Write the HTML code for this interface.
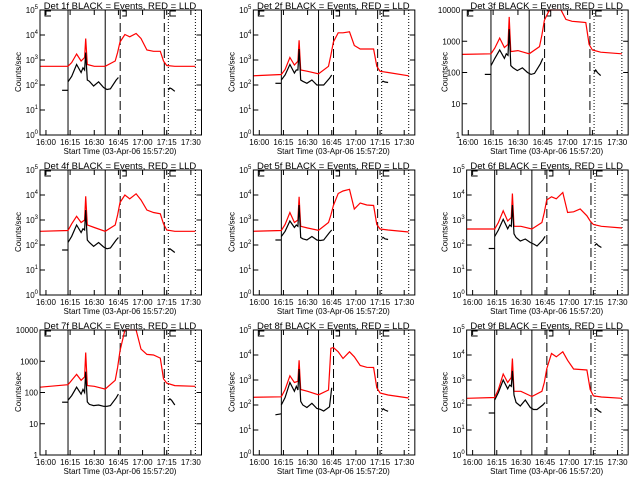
<!DOCTYPE html>
<html><head><meta charset="utf-8"><style>
html,body{margin:0;padding:0;background:#fff;}
svg{display:block;}
text{font-family:"Liberation Sans",sans-serif;fill:#000;}
</style></head><body>
<svg id="chart" width="640" height="480" viewBox="0 0 640 480" xmlns="http://www.w3.org/2000/svg"></svg>
<script>
// Shared time knots (minutes after 16:00)
const redTimes = [-3.7,13.7,16,19,21.8,24,24.7,25.7,30,36.8,43,44.5,46,49,52,56,59,62.7,66.8,71,73,75,80,92.8];
const blackTimes = [13.7,16,19,21.8,23,24,24.7,25.7,27,29.6,32.7,35.8,37.9,40,43.6,45];
const blackPreTimes = [10,13.7];
const blackPostTimes = [76,77,78,80];
const xTickLabels = ["16:00","16:15","16:30","16:45","17:00","17:15","17:30"];
const xTickTimes = [0,15,30,45,60,75,90];
const solidLineTimes = [13.7,36.8];
const dashedLineTimes = [46.1,73.5];
const dottedLineTimes = [76,92.8];
const detNames = ["1f","2f","3f","4f","5f","6f","7f","8f","9f"];
const yDecades = [5,5,4,5,5,5,4,5,5];
// red (LLD) log10 counts/sec
const red1 = [2.75,2.75,2.9,3.24,2.96,3.1,3.86,2.82,2.75,2.75,2.96,3.3,3.72,4.02,3.93,4.06,3.86,3.4,3.35,3.35,2.96,2.78,2.75,2.75];
const red2 = [2.37,2.42,2.62,3.1,2.8,2.95,3.79,2.6,2.55,2.45,2.75,3.2,3.72,4.09,4.09,4.13,3.58,3.44,3.44,3.44,2.75,2.55,2.5,2.37];
const red3 = [2.58,2.6,2.78,3.1,2.8,2.9,3.78,2.67,2.7,2.6,2.83,3.2,3.67,4.0,4.1,4.1,3.7,3.64,3.62,3.6,2.9,2.72,2.65,2.6];
const red4 = [2.55,2.58,2.85,3.15,2.9,3.0,3.95,2.8,2.7,2.55,2.8,3.2,3.7,4.0,3.85,4.05,3.8,3.4,3.3,3.25,2.85,2.6,2.55,2.55];
const red5 = [2.55,2.58,2.82,3.3,2.9,3.0,3.93,2.75,2.68,2.59,2.9,3.2,3.58,4.06,4.16,4.23,3.44,3.68,3.6,3.58,2.82,2.64,2.6,2.52];
const red6 = [2.64,2.64,2.9,3.37,2.96,3.1,4.06,2.75,2.75,2.64,2.9,3.3,3.8,3.93,3.85,4.1,3.3,3.33,3.44,3.17,2.96,2.82,2.75,2.68];
const red7 = [2.17,2.25,2.39,2.58,2.39,2.5,3.28,2.22,2.2,2.11,2.39,2.8,3.33,4.0,4.1,4.1,3.39,3.22,3.2,3.1,2.44,2.3,2.22,2.2];
const red8 = [2.31,2.33,2.62,3.17,2.9,2.95,3.79,2.62,2.55,2.41,2.6,4.27,4.3,4.13,3.86,4.13,3.93,3.58,3.51,3.5,2.69,2.48,2.4,2.28];
const red9 = [2.27,2.3,2.62,3.24,2.9,3.1,3.86,2.55,2.55,2.34,2.55,2.9,3.44,4.06,3.93,4.13,3.79,3.44,3.42,3.4,2.62,2.37,2.32,2.27];
// black (events) log10 counts/sec
const blk1 = [2.13,2.35,2.82,2.5,2.69,2.6,3.3,2.2,2.15,1.96,2.13,1.9,1.82,1.85,2.2,2.3];
const blk2 = [2.2,2.4,2.82,2.48,2.6,2.6,3.44,2.2,2.15,2.07,2.2,2.0,2.0,2.0,2.27,2.4];
const blk3 = [2.22,2.45,2.72,2.45,2.6,2.55,3.39,2.22,2.15,2.06,2.15,2.0,1.94,1.97,2.28,2.45];
const blk4 = [2.1,2.35,2.8,2.5,2.65,2.6,3.4,2.2,2.1,1.95,2.1,1.92,1.85,1.88,2.2,2.3];
const blk5 = [2.34,2.55,2.96,2.7,2.8,2.75,3.6,2.3,2.25,2.2,2.34,2.2,2.18,2.2,2.5,2.6];
const blk6 = [2.34,2.6,3.03,2.65,2.8,2.75,3.6,2.45,2.3,2.16,2.24,2.1,2.04,1.96,2.2,2.35];
const blk7 = [1.75,1.9,2.17,1.95,2.1,2.0,2.67,1.7,1.62,1.58,1.6,1.56,1.56,1.58,1.83,1.95];
const blk8 = [2.0,2.3,2.9,2.55,2.75,2.6,3.44,2.15,2.0,1.9,2.07,1.86,1.83,1.76,1.93,2.69];
const blk9 = [2.2,2.5,3.0,2.65,2.8,2.75,3.37,2.4,2.1,1.96,2.2,1.9,1.82,1.82,2.0,2.1];
const pre1=[1.79,1.79],pre2=[2.07,2.07],pre3=[1.94,1.94],pre4=[1.8,1.8],pre5=[2.2,2.2],pre6=[1.86,1.86],pre7=[1.69,1.69],pre8=[1.61,1.65],pre9=[1.68,1.68];
const post1=[1.8,1.88,1.85,1.75],post2=[2.13,2.15,2.12,2.1],post3=[2.0,2.08,2.0,1.9],post4=[1.8,1.85,1.8,1.7],post5=[2.27,2.3,2.25,2.22],post6=[2.0,2.05,1.98,1.9],post7=[1.75,1.8,1.75,1.6],post8=[1.79,1.85,1.8,1.75],post9=[1.8,1.85,1.78,1.7];

const reds=[red1,red2,red3,red4,red5,red6,red7,red8,red9];
const blks=[blk1,blk2,blk3,blk4,blk5,blk6,blk7,blk8,blk9];
const pres=[pre1,pre2,pre3,pre4,pre5,pre6,pre7,pre8,pre9];
const posts=[post1,post2,post3,post4,post5,post6,post7,post8,post9];

const NS="http://www.w3.org/2000/svg";
const svg=document.getElementById('chart');
function mk(tag,attrs,parent){const e=document.createElementNS(NS,tag);for(const k in attrs)e.setAttribute(k,attrs[k]);parent.appendChild(e);return e;}

for(let p=0;p<9;p++){
  const col=p%3,row=Math.floor(p/3);
  const ox=col*213.33, oy=row*160;
  const L=ox+(p===2?35.5:40), R=ox+201.5, T=oy+10, B=oy+135;
  const dec=yDecades[p];
  const xs=t=>L+(t+3.7)*(R-L)/100.3;
  const ys=v=>B-Math.max(0,Math.min(dec,v))*(B-T)/dec;
  const g=mk('g',{},svg);
  
  
  // vertical markers
  solidLineTimes.forEach(t=>{const l=mk('line',{x1:xs(t),x2:xs(t),y1:T,y2:B,stroke:'#000','stroke-width':1},g);});
  dashedLineTimes.forEach(t=>{const l=mk('line',{x1:xs(t),x2:xs(t),y1:T,y2:B,stroke:'#000','stroke-width':1,'stroke-dasharray':'9,4'},g);});
  dottedLineTimes.forEach(t=>{const l=mk('line',{x1:xs(t),x2:xs(t),y1:T,y2:B,stroke:'#000','stroke-width':1,'stroke-dasharray':'1,2'},g);});
  // top brackets
  [[-0.6,1],[48,-1],[77,1]].forEach(b=>{const x=xs(b[0]);const d=b[1]>0?`M${x+6},${T+1}H${x}V${T+6}H${x+6}`:`M${x-1},${T+1}H${x+3}V${T+6}H${x-1}`;const pa=mk('path',{d:d,fill:'none',stroke:'#000','stroke-width':1},g);});
  // series
  const line=(times,vals,color,name)=>{const pts=times.map((t,i)=>xs(t).toFixed(1)+','+ys(vals[i]).toFixed(1)).join(' ');const pl=mk('polyline',{points:pts,fill:'none',stroke:color,'stroke-width':1.2},g);};
  line(redTimes,reds[p],'#ff0000','red-lld-series');
  line(blackPreTimes,pres[p],'#000','black-events-pre');
  line(blackTimes,blks[p],'#000','black-events-series');
  line(blackPostTimes,posts[p],'#000','black-events-post');
  // frame
  const fr=mk('rect',{x:L,y:T,width:R-L,height:B-T,fill:'none',stroke:'#000','stroke-width':1},g);
  
  // y ticks
  for(let d=0;d<=dec;d++){
    const y=ys(d);
    mk('line',{x1:L,x2:L+5,y1:y,y2:y,stroke:'#000'},g);
    mk('line',{x1:R-5,x2:R,y1:y,y2:y,stroke:'#000'},g);
    const tx=mk('text',{x:L-2,y:y+3,'font-size':8,'text-anchor':'end'},g);
    
    if(dec===4){tx.textContent=String(Math.pow(10,d));}
    else{tx.textContent='10';const s=mk('tspan',{'font-size':6,dy:-4},tx);s.textContent=String(d);}
  }
  // x ticks
  xTickTimes.forEach((t,i)=>{
    const x=xs(t);
    mk('line',{x1:x,x2:x,y1:B,y2:B-5,stroke:'#000'},g);
    mk('line',{x1:x,x2:x,y1:T,y2:T+5,stroke:'#000'},g);
    const tx=mk('text',{x:x,y:B+10,'font-size':8,'text-anchor':'middle'},g);
    
    tx.textContent=xTickLabels[i];
  });
  const xt=mk('text',{x:ox+120,y:oy+154,'font-size':8,'text-anchor':'middle'},g);
  
  xt.textContent='Start Time (03-Apr-06 15:57:20)';
  const yt=mk('text',{x:0,y:0,'font-size':8,'text-anchor':'middle',transform:`translate(${ox+21},${oy+72}) rotate(-90)`},g);
  
  yt.textContent='Counts/sec';
  const tt=mk('text',{x:ox+120,y:oy+9,'font-size':9.5,'text-anchor':'middle'},g);
  
  tt.textContent='Det '+detNames[p]+' BLACK = Events, RED = LLD';
}
</script>
</body></html>
